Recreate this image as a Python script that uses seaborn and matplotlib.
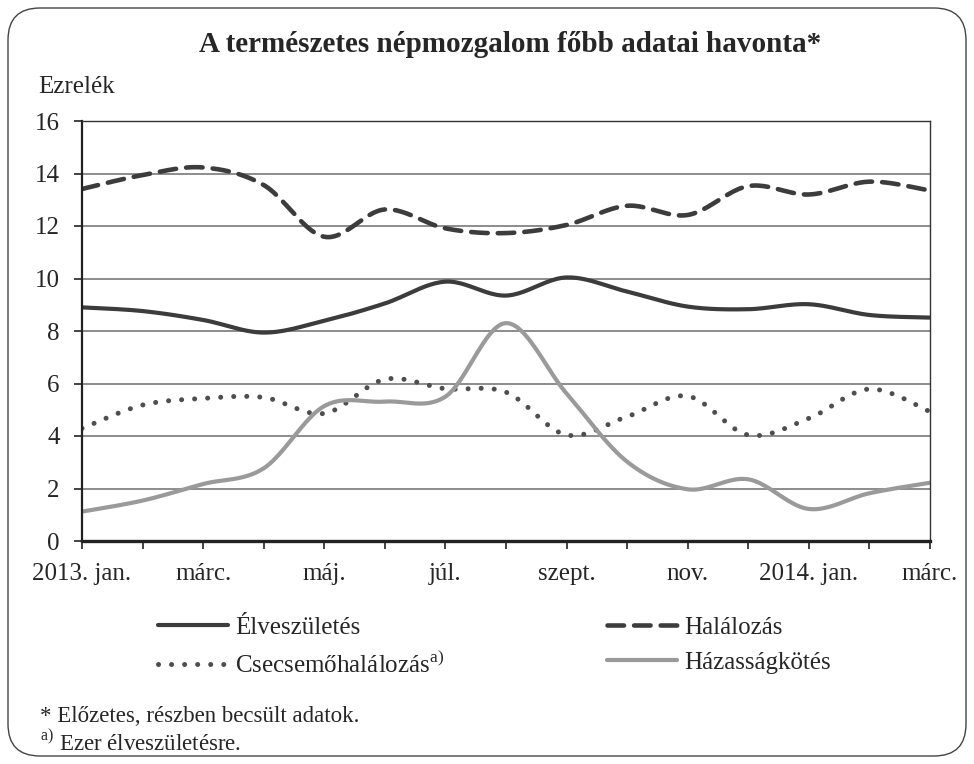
import numpy as np
import pandas as pd
import matplotlib.pyplot as plt
import seaborn as sns
from matplotlib.lines import Line2D
from matplotlib.patches import FancyBboxPatch
from matplotlib.transforms import IdentityTransform

# monthly data, 2013. jan. - 2014. márc. (per thousand)
months = ["2013. jan.", "febr.", "márc.", "ápr.", "máj.", "jún.", "júl.", "aug.",
          "szept.", "okt.", "nov.", "dec.", "2014. jan.", "febr.", "márc."]
tick_labels = ["2013. jan.", "", "márc.", "", "máj.", "", "júl.", "", "szept.", "",
               "nov.", "", "2014. jan.", "", "márc."]
elveszuletes = [8.9, 8.76, 8.42, 7.94, 8.39, 9.05, 9.88, 9.35, 10.04, 9.5, 8.93, 8.83, 9.02, 8.61, 8.51]
halalozas = [13.41, 13.94, 14.23, 13.56, 11.59, 12.63, 11.91, 11.73, 12.04, 12.77, 12.42, 13.52, 13.2, 13.69, 13.35]
csecsemo = [4.29, 5.18, 5.43, 5.47, 4.86, 6.16, 5.8, 5.67, 4.04, 4.74, 5.52, 4.04, 4.67, 5.79, 4.93]
hazassag = [1.12, 1.54, 2.17, 2.77, 5.14, 5.31, 5.5, 8.3, 5.62, 3.02, 1.97, 2.35, 1.22, 1.82, 2.22]

sns.set_theme(style="white")
plt.rcParams['font.family'] = ['Liberation Serif', 'DejaVu Serif']
plt.rcParams['mathtext.fontset'] = 'custom'
plt.rcParams['mathtext.rm'] = 'Liberation Serif'


def smooth(y, n=24):
    # Excel-style smoothed line (Bezier through the points)
    x = np.arange(len(y), dtype=float)
    y = np.asarray(y, dtype=float)
    px = np.concatenate([[x[0]], x, [x[-1]]])
    py = np.concatenate([[y[0]], y, [y[-1]]])
    xs, ys = [], []
    t = np.linspace(0, 1, n, endpoint=False)
    for i in range(len(y) - 1):
        p0 = np.array([px[i], py[i]])
        p1 = np.array([px[i + 1], py[i + 1]])
        p2 = np.array([px[i + 2], py[i + 2]])
        p3 = np.array([px[i + 3], py[i + 3]])
        c1 = p1 + (p2 - p0) / 6
        c2 = p2 - (p3 - p1) / 6
        b = ((1 - t) ** 3)[:, None] * p1 + (3 * (1 - t) ** 2 * t)[:, None] * c1 \
            + (3 * (1 - t) * t ** 2)[:, None] * c2 + (t ** 3)[:, None] * p2
        xs.append(b[:, 0])
        ys.append(b[:, 1])
    xs.append([x[-1]])
    ys.append([y[-1]])
    return np.concatenate(xs), np.concatenate(ys)


fig = plt.figure(figsize=(9.74, 7.64), dpi=100)
ax = fig.add_axes([82 / 974, 1 - 541 / 764, 848 / 974, 420 / 764])

series = [
    ("Élveszületés", elveszuletes, "#3c3c3c", "-", 3.0),
    ("Halálozás", halalozas, "#3c3c3c", (0, (3.6, 2.2)), 3.3),
    ("Csecsemőhalálozás$^{\\mathrm{a)}}$", csecsemo, "#4e4e4e", (0, (0.01, 2.6)), 3.6),
    ("Házasságkötés", hazassag, "#9a9a9a", "-", 3.0),
]

handles = {}
for name, vals, color, ls, lw in series:
    sx, sy = smooth(vals)
    sns.lineplot(x=sx, y=sy, ax=ax, sort=False, estimator=None, color=color,
                 linewidth=lw, linestyle=ls, dash_capstyle="round")
    handles[name] = Line2D([], [], color=color, linewidth=lw, linestyle=ls,
                           dash_capstyle="round", solid_capstyle="round")

ax.set_ylim(0, 16)
ax.set_xlim(0, len(months) - 1)
ax.set_yticks(range(0, 17, 2))
ax.set_xticks(range(len(months)))
ax.set_xticklabels(tick_labels, fontsize=18)
ax.tick_params(axis='y', labelsize=18, length=6, width=1.2, color="#222222", pad=10, direction='out', left=True)
ax.tick_params(axis='x', length=6, width=1.2, color="#222222", pad=10, direction='out', bottom=True)
for y in range(2, 16, 2):
    ax.axhline(y, color="#8c8c8c", linewidth=1.4, zorder=0)
for side in ['top', 'right']:
    ax.spines[side].set_color("#333333")
    ax.spines[side].set_linewidth(1.0)
ax.spines['left'].set_color("#222222")
ax.spines['left'].set_linewidth(1.6)
ax.spines['bottom'].set_color("#222222")
ax.spines['bottom'].set_linewidth(2.4)
ax.set_xlabel("")
ax.set_ylabel("")

fig.text(510 / 974, 1 - 45 / 764, "A természetes népmozgalom főbb adatai havonta*",
         ha="center", va="center", fontsize=21, fontweight="bold")
fig.text(38 / 974, 1 - 87 / 764, "Ezrelék", ha="left", va="center", fontsize=18)

leg_kw = dict(loc="upper left", frameon=False, fontsize=18, handlelength=2.8,
              handletextpad=0.28, labelspacing=0.52, borderpad=0, borderaxespad=0)
col1 = ["Élveszületés", "Csecsemőhalálozás$^{\\mathrm{a)}}$"]
col2 = ["Halálozás", "Házasságkötés"]
leg1 = fig.legend([handles[k] for k in col1], col1,
                  bbox_to_anchor=(158 / 974, 1 - 616 / 764), **leg_kw)
leg2 = fig.legend([handles[k] for k in col2], col2,
                  bbox_to_anchor=(607 / 974, 1 - 616 / 764), **leg_kw)

fig.text(40 / 974, 1 - 717 / 764, "* Előzetes, részben becsült adatok.", ha="left",
         va="center", fontsize=16.5)
fig.text(40 / 974, 1 - 742 / 764, "$^{\\mathrm{a)}}$ Ezer élveszületésre.", ha="left",
         va="center", fontsize=16.5)

border = FancyBboxPatch((8, 8), 958, 748, boxstyle="round,pad=0,rounding_size=32",
                        transform=IdentityTransform(), fill=False, edgecolor="#444444",
                        linewidth=1.0)
fig.patches.append(border)

fig.savefig("out.png", dpi=100)
